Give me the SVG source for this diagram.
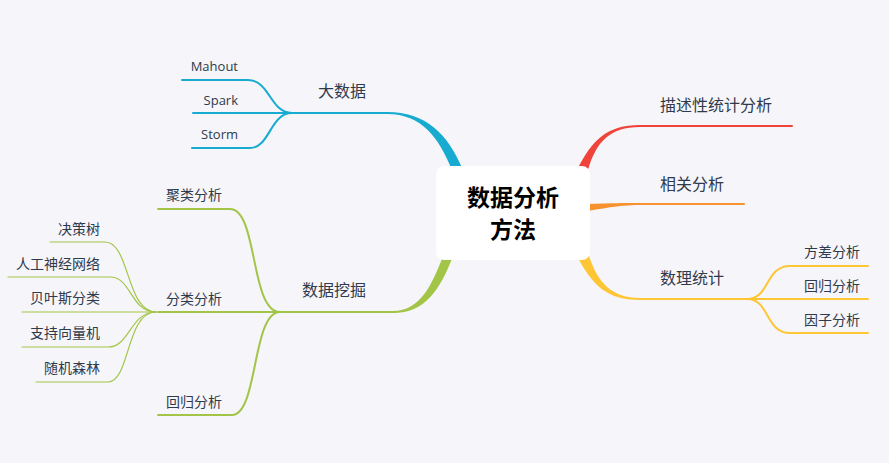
<svg xmlns="http://www.w3.org/2000/svg" width="889" height="463" viewBox="0 0 889 463">
<style>
.t{font-family:"Noto Sans CJK SC","Noto Sans",sans-serif;fill:#2f3a4c}
.l{font-size:16px}
.s{font-size:14px}
.e{font-family:"Open Sans","Noto Sans",sans-serif;font-size:13px;fill:#2f3a4c}
.c{font-family:"Noto Sans CJK SC",sans-serif;font-size:23px;font-weight:bold;fill:#000}
.ln{fill:none;stroke-linecap:round}
.b{stroke:#17abd0}
.g{stroke:#a3c547}
.y{stroke:#fec534}
.w2{stroke-width:2}
.w1{stroke-width:1.2}
</style>
<rect width="889" height="463" fill="#f5f5fa"/>
<g id="connectors">
  <path d="M387,112 C426,112 448,134 463,170 L452,170 C439,138 422,114 387,114 Z" fill="#17abd0"/>
  <path d="M577,170 C592,140 607,125 640,125 L640,127 C610,127 596,142 588,170 Z" fill="#f0433a"/>
  <path d="M588,204 C610,203 625,203 640,203 L640,205 C625,205 610,207 588,211 Z" fill="#f7922f"/>
  <path d="M577,256 C592,285 607,300 640,300 L640,298 C612,298 598,283 589,256 Z" fill="#fec534"/>
  <path d="M453,256 C440,290 425,313 393,313 L393,311 C420,311 432,285 443,256 Z" fill="#a3c547"/>
  <path class="ln b w2" d="M290,113 H388"/>
  <path class="ln w2" stroke="#f0433a" d="M638,126 H792"/>
  <path class="ln w2" stroke="#f7922f" d="M638,204 H744"/>
  <path class="ln y w2" d="M638,299 H748"/>
  <path class="ln g w2" d="M280,312 H395"/>
  <path class="ln b w2" d="M182,80 H248 C270,80 270,113 292,113"/>
  <path class="ln b w2" d="M193,113 H292"/>
  <path class="ln b w2" d="M192,148 H250 C270,148 270,113 292,113"/>
  <path class="ln y w2" d="M747,299 C770,299 765,266 790,266 H868"/>
  <path class="ln y w2" d="M747,299 H868"/>
  <path class="ln y w2" d="M747,299 C770,299 765,333 790,333 H868"/>
  <path class="ln g w2" d="M158,209 H230 C258,209 250,312 280,312"/>
  <path class="ln g w2" d="M158,312 H280"/>
  <path class="ln g w2" d="M158,415 H232 C258,415 252,312 280,312"/>
  <path class="ln g w1" d="M50,242 H105 C130,242 126,312 156,312"/>
  <path class="ln g w1" d="M8,277 H110 C132,277 130,312 156,312"/>
  <path class="ln g w1" d="M22,312 H156"/>
  <path class="ln g w1" d="M22,347 H108 C130,347 130,312 156,312"/>
  <path class="ln g w1" d="M36,382 H108 C130,382 126,312 156,312"/>
</g>
<g id="root">
  <rect x="436" y="166" width="154" height="94" rx="8" fill="#fff"/>
  <text class="c" x="513" y="206" text-anchor="middle">数据分析</text>
  <text class="c" x="513" y="238" text-anchor="middle">方法</text>
</g>
<g id="n-bigdata"><text class="t l" x="342" y="97" text-anchor="middle">大数据</text></g>
<g id="n-mahout"><text class="e" x="238" y="71" text-anchor="end">Mahout</text></g>
<g id="n-spark"><text class="e" x="238" y="105" text-anchor="end">Spark</text></g>
<g id="n-storm"><text class="e" x="238" y="139" text-anchor="end">Storm</text></g>
<g id="n-desc"><text class="t l" x="660" y="110.5">描述性统计分析</text></g>
<g id="n-corr"><text class="t l" x="660" y="189.5">相关分析</text></g>
<g id="n-math"><text class="t l" x="660" y="283.5">数理统计</text></g>
<g id="n-anova"><text class="t s" x="804" y="256.5">方差分析</text></g>
<g id="n-regr-r"><text class="t s" x="804" y="290.5">回归分析</text></g>
<g id="n-factor"><text class="t s" x="804" y="324.5">因子分析</text></g>
<g id="n-mining"><text class="t l" x="302" y="296">数据挖掘</text></g>
<g id="n-cluster"><text class="t s" x="166" y="199.5">聚类分析</text></g>
<g id="n-classify"><text class="t s" x="166" y="303.5">分类分析</text></g>
<g id="n-regr-l"><text class="t s" x="166" y="406.5">回归分析</text></g>
<g id="n-tree"><text class="t s" x="100" y="233.5" text-anchor="end">决策树</text></g>
<g id="n-ann"><text class="t s" x="100" y="268.5" text-anchor="end">人工神经网络</text></g>
<g id="n-bayes"><text class="t s" x="100" y="302.5" text-anchor="end">贝叶斯分类</text></g>
<g id="n-svm"><text class="t s" x="100" y="337.5" text-anchor="end">支持向量机</text></g>
<g id="n-rf"><text class="t s" x="100" y="372.5" text-anchor="end">随机森林</text></g>
</svg>
